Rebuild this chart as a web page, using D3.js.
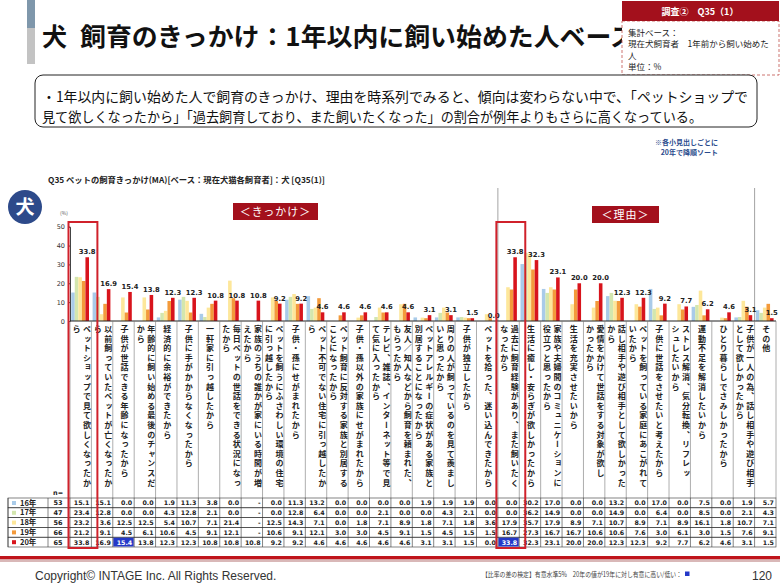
<!DOCTYPE html>
<html><head><meta charset="utf-8">
<script src="https://cdn.jsdelivr.net/npm/d3@7/dist/d3.min.js"></script>
<style>
body{margin:0;background:#fff;}
svg{display:block;font-family:"Noto Sans CJK JP","Noto Sans",sans-serif;}
</style></head><body>
<svg id="chart" width="780" height="588"></svg>
<script>
// categories (きっかけ 20 + 理由 13)
const categories = [
  "ペットショップで見て欲しくなったから",
  "以前飼っていたペットが亡くなったから",
  "子供が世話できる年齢になったから",
  "年齢的に飼い始める最後のチャンスだから",
  "経済的に余裕ができたから",
  "子供に手がかからなくなったから",
  "一軒家に引っ越したから",
  "毎日ペットの世話をできる状況になったから",
  "家族のうちの誰かが家にいる時間が増えたから",
  "ペットを飼うにふさわしい環境の住宅に引っ越したから",
  "子供・孫にせがまれたから",
  "ペット不可でない住宅に引っ越したから",
  "ペット飼育に反対する家族と別居することになったから",
  "子供・孫以外の家族にせがまれたから",
  "テレビ、雑誌、インターネット等で見て気に入ったから",
  "友人／知人などから飼育を頼まれた、もらったから",
  "ペットアレルギーの症状がある家族と別居することになったから",
  "周りの人が飼っているのを見て羨ましいと思ったから",
  "子供が独立したから",
  "ペットを拾った、迷い込んできたから",
  "過去に飼育経験があり、また飼いたくなったから",
  "生活に癒し・安らぎが欲しかったから",
  "家族や夫婦間のコミュニケーションに役立つと思ったから",
  "生活を充実させたいから",
  "愛情をかけて世話をする対象が欲しかったから",
  "話し相手や遊び相手として欲しかったから",
  "ペットを飼っている家庭にあこがれていたから",
  "子供に世話をさせたいと考えたから",
  "ストレス解消、気分転換、リフレッシュしたいから",
  "運動不足を解消したいから",
  "ひとり暮らしでさみしかったから",
  "子供が一人の為、話し相手や遊び相手として欲しかったから",
  "その他"
];
const years = ["16年", "17年", "18年", "19年", "20年"];
const nValues = [53, 47, 56, 66, 65];
const v16 = [15.1,15.1,0.0,0.0,1.9,11.3,3.8,0.0,null,0.0,11.3,13.2,0.0,0.0,0.0,0.0,1.9,1.9,1.9,0.0,
             0.0,30.2,17.0,0.0,0.0,13.2,0.0,17.0,0.0,7.5,0.0,1.9,5.7];
const v17 = [23.4,12.8,0.0,0.0,4.3,12.8,2.1,0.0,null,0.0,12.8,6.4,0.0,0.0,2.1,0.0,0.0,4.3,2.1,0.0,
             0.0,36.2,14.9,0.0,0.0,14.9,0.0,6.4,0.0,8.5,0.0,2.1,4.3];
const v18 = [23.2,3.6,12.5,12.5,5.4,10.7,7.1,21.4,null,12.5,14.3,7.1,0.0,1.8,7.1,8.9,1.8,7.1,1.8,3.6,
             17.9,35.7,17.9,8.9,7.1,10.7,8.9,7.1,8.9,16.1,1.8,10.7,7.1];
const v19 = [21.2,9.1,4.5,6.1,10.6,4.5,9.1,12.1,null,10.6,9.1,12.1,3.0,3.0,4.5,9.1,1.5,4.5,1.5,1.5,
             16.7,27.3,16.7,16.7,10.6,10.6,7.6,3.0,6.1,3.0,1.5,7.6,9.1];
const v20 = [33.8,16.9,15.4,13.8,12.3,12.3,10.8,10.8,10.8,9.2,9.2,4.6,4.6,4.6,4.6,4.6,3.1,3.1,1.5,0.0,
             33.8,32.3,23.1,20.0,20.0,12.3,12.3,9.2,7.7,6.2,4.6,3.1,1.5];
const series = [v16, v17, v18, v19, v20];
const colors = ["#a9cbe9", "#d3e6ae", "#fde79a", "#f39a3b", "#d8141c"];
const yTicks = [0, 10, 20, 30, 40, 50];
const sectionNames = ["＜きっかけ＞", "＜理由＞"];
const sectionStart = [0, 20, 32];      // first column index of each block
const boxedCols = [0, 20];             // red frames
const sigCells = [[2, 4], [20, 4]];    // [column, year row] significant

const svg = d3.select('#chart');

// header
svg.append('rect').attr('x', 27).attr('y', 0).attr('width', 8).attr('height', 28).attr('fill', '#7f97ab');
svg.append('rect').attr('x', 27).attr('y', 28).attr('width', 8).attr('height', 36).attr('fill', '#c3c3c3');
svg.append('text').attr('x', 42).attr('y', 46)
  .style('font-size', '25px').style('font-weight', 'bold').attr('fill', '#111').text('犬');
svg.append('text').attr('x', 80).attr('y', 46)
  .style('font-size', '25px').style('font-weight', 'bold').attr('fill', '#111')
  .attr('textLength', 556).attr('lengthAdjust', 'spacingAndGlyphs')
  .text('飼育のきっかけ：1年以内に飼い始めた人ベース');

// info box top right
svg.append('rect').attr('x', 622).attr('y', 21).attr('width', 157).attr('height', 54)
  .attr('fill', '#fff').attr('stroke', '#c0504d').attr('stroke-dasharray', '3,2').attr('stroke-width', 0.8);
svg.append('rect').attr('x', 622).attr('y', 1).attr('width', 157).attr('height', 20).attr('fill', '#a3101c');
svg.append('text').attr('x', 700).attr('y', 14.5).attr('text-anchor', 'middle')
  .style('font-size', '9px').style('font-weight', 'bold').attr('fill', '#fff').text('調査②　Q35（1）');
["集計ベース：", "現在犬飼育者　1年前から飼い始めた", "人", "単位：%"].forEach((t, i) => {
  svg.append('text').attr('x', 628).attr('y', 36 + i * 11.3)
    .style('font-size', '8.5px').attr('fill', '#222').text(t);
});

// summary box
svg.append('rect').attr('x', 35).attr('y', 75).attr('width', 722).attr('height', 52)
  .attr('rx', 8).attr('fill', '#fff').attr('stroke', '#222').attr('stroke-width', 1);
svg.append('text').attr('x', 42).attr('y', 102).style('font-size', '14px').attr('fill', '#111')
  .attr('textLength', 706).attr('lengthAdjust', 'spacingAndGlyphs')
  .text('・1年以内に飼い始めた人で飼育のきっかけ、理由を時系列でみると、傾向は変わらない中で、「ペットショップで');
svg.append('text').attr('x', 42).attr('y', 122).style('font-size', '14px').attr('fill', '#111')
  .attr('textLength', 660).attr('lengthAdjust', 'spacingAndGlyphs')
  .text('見て欲しくなったから」「過去飼育しており、また飼いたくなった」の割合が例年よりもさらに高くなっている。');

// sort note
svg.append('text').attr('x', 718).attr('y', 145).attr('text-anchor', 'end')
  .style('font-size', '7px').style('font-weight', 'bold').attr('fill', '#2a4b8d').text('※各小見出しごとに');
svg.append('text').attr('x', 718).attr('y', 155).attr('text-anchor', 'end')
  .style('font-size', '7px').style('font-weight', 'bold').attr('fill', '#2a4b8d').text('20年で降順ソート');

// question title
svg.append('text').attr('x', 48).attr('y', 183)
  .style('font-size', '8px').style('font-weight', 'bold').attr('fill', '#222')
  .attr('textLength', 277).attr('lengthAdjust', 'spacingAndGlyphs')
  .text('Q35 ペットの飼育きっかけ(MA)[ベース：現在犬猫各飼育者]：犬 [Q35(1)]');

// dog badge
svg.append('circle').attr('cx', 25).attr('cy', 207).attr('r', 17).attr('fill', '#2d4a8a');
svg.append('text').attr('x', 25).attr('y', 214).attr('text-anchor', 'middle')
  .style('font-size', '19px').style('font-weight', 'bold').attr('fill', '#fff').text('犬');

// scales
const x = d3.scaleBand().domain(d3.range(categories.length)).range([70, 776]);
const bw = x.bandwidth();
const xs = d3.scaleBand().domain(years).range([1.2, 19]);
const y = d3.scaleLinear().domain([0, 50]).range([321, 226.7]);

// section dividers + labels
sectionStart.slice(1).forEach(c => {
  svg.append('line').attr('x1', x(c)).attr('x2', x(c)).attr('y1', 188).attr('y2', 321)
    .attr('stroke', '#8c8c8c').attr('stroke-width', 0.8);
});
const secBox = [[233, 203, 85], [592, 206, 67]];
sectionNames.forEach((s, i) => {
  const b = secBox[i];
  svg.append('rect').attr('x', b[0]).attr('y', b[1]).attr('width', b[2]).attr('height', 17).attr('fill', '#a3101c');
  svg.append('text').attr('x', b[0] + b[2] / 2).attr('y', b[1] + 12.5).attr('text-anchor', 'middle')
    .style('font-size', '11px').attr('fill', '#fff').style('letter-spacing', '1px').text(s);
});

// y axis
const yAxis = svg.append('g').attr('transform', 'translate(70,0)')
  .call(d3.axisLeft(y).tickValues(yTicks).tickSize(2).tickPadding(3));
yAxis.select('.domain').attr('stroke', '#444');
yAxis.selectAll('.tick line').attr('stroke', '#444');
yAxis.selectAll('text').style('font-family', 'DejaVu Sans').style('font-size', '6.5px').attr('fill', '#333');
svg.append('text').attr('x', 60).attr('y', 215).style('font-size', '5px').attr('fill', '#555').text('(%)');

// bars
const g = svg.append('g');
categories.forEach((c, ci) => {
  years.forEach((yr, yi) => {
    const v = series[yi][ci];
    if (v == null) return;
    g.append('rect')
      .attr('x', x(ci) + xs(yr)).attr('width', xs.bandwidth())
      .attr('y', y(v)).attr('height', y(0) - y(v))
      .attr('fill', colors[yi]);
  });
});
// value labels for 20年
g.selectAll('.vlab').data(v20).enter().append('text')
  .attr('x', (d, i) => x(i) + xs('20年') + xs.bandwidth() / 2)
  .attr('y', d => y(d) - 3)
  .attr('text-anchor', 'middle')
  .style('font-family', 'DejaVu Sans').style('font-size', '6.8px').style('font-weight', 'bold')
  .attr('fill', '#222').text(d => d.toFixed(1));

// baseline
svg.append('line').attr('x1', 70).attr('x2', 776).attr('y1', 321).attr('y2', 321)
  .attr('stroke', '#222').attr('stroke-width', 1.2);

// category label grid
const labTop = 321, labBot = 498;
d3.range(categories.length + 1).forEach(i => {
  const xx = i < categories.length ? x(i) : 776;
  svg.append('line').attr('x1', xx).attr('x2', xx).attr('y1', labTop).attr('y2', labBot)
    .attr('stroke', '#777').attr('stroke-width', 0.6);
});

function wrapJa(s, n) {
  const noStart = "っゃゅょッャュョー、。・）」";
  const lines = []; let rest = [...s];
  while (rest.length > n) {
    let cut = n;
    while (cut > 1 && noStart.includes(rest[cut])) cut--;
    lines.push(rest.slice(0, cut).join(''));
    rest = rest.slice(cut);
  }
  lines.push(rest.join(''));
  return lines;
}
categories.forEach((c, ci) => {
  const lines = wrapJa(c, 17);
  const cx = x(ci) + bw / 2 + 1;
  lines.forEach((ln, k) => {
    svg.append('text')
      .attr('x', cx + ((lines.length - 1) / 2 - k) * 10.5)
      .attr('y', 325)
      .style('writing-mode', 'vertical-rl')
      .style('font-size', '8px').style('font-weight', 'bold').style('letter-spacing', '1.6px')
      .attr('fill', '#222').text(ln);
  });
});

// data table
const tTop = 498, rowH = 9.8;
svg.append('text').attr('x', 53).attr('y', 495).style('font-family', 'DejaVu Sans')
  .style('font-size', '6.5px').style('font-weight', 'bold').attr('fill', '#222').text('n=');
years.forEach((yr, r) => {
  const ty = tTop + r * rowH;
  svg.append('rect').attr('x', 8).attr('y', ty).attr('width', 768).attr('height', rowH)
    .attr('fill', 'none').attr('stroke', '#333').attr('stroke-width', 0.6);
  svg.append('rect').attr('x', 12).attr('y', ty + 3).attr('width', 4).attr('height', 4).attr('fill', colors[r]);
  svg.append('text').attr('x', 20).attr('y', ty + 7.5).style('font-size', '7.5px').style('font-weight', 'bold')
    .attr('fill', '#222').text(yr);
  svg.append('text').attr('x', 58).attr('y', ty + 7.3).attr('text-anchor', 'middle')
    .style('font-family', 'DejaVu Sans').style('font-size', '6.5px').style('font-weight', 'bold')
    .attr('fill', '#222').text(nValues[r]);
  categories.forEach((c, ci) => {
    const sig = sigCells.some(s => s[0] === ci && s[1] === r);
    if (sig) {
      svg.append('rect').attr('x', x(ci) + 0.5).attr('y', ty + 0.5).attr('width', bw - 1).attr('height', rowH - 1)
        .attr('fill', '#2438c8');
    }
    const v = series[r][ci];
    svg.append('text').attr('x', x(ci) + bw - 2).attr('y', ty + 7.3).attr('text-anchor', 'end')
      .style('font-family', 'DejaVu Sans').style('font-size', '6.3px').style('font-weight', 'bold')
      .attr('fill', sig ? '#fff' : '#222').text(v == null ? '-' : v.toFixed(1));
  });
});
[8, 48].forEach(xx => svg.append('line').attr('x1', xx).attr('x2', xx).attr('y1', tTop).attr('y2', tTop + 5 * rowH)
  .attr('stroke', '#333').attr('stroke-width', 0.6));
d3.range(categories.length).forEach(i => {
  svg.append('line').attr('x1', x(i)).attr('x2', x(i)).attr('y1', tTop).attr('y2', tTop + 5 * rowH)
    .attr('stroke', '#333').attr('stroke-width', 0.6);
});

// red frames
boxedCols.forEach(c => {
  svg.append('rect').attr('x', x(c) - 1.5).attr('y', 222).attr('width', bw + 7.5).attr('height', 326)
    .attr('fill', 'none').attr('stroke', '#d0212b').attr('stroke-width', 2);
});

// footer
svg.append('rect').attr('x', 0).attr('y', 556).attr('width', 780).attr('height', 3.5).attr('fill', '#c0141c');
svg.append('rect').attr('x', 0).attr('y', 559.5).attr('width', 780).attr('height', 2.5).attr('fill', '#d9b8b8');
svg.append('text').attr('x', 35).attr('y', 580).style('font-family', 'Liberation Sans, Arial')
  .style('font-size', '12px').attr('fill', '#333').text('Copyright© INTAGE Inc. All Rights Reserved.');
svg.append('text').attr('x', 482).attr('y', 577).style('font-size', '7px').attr('fill', '#444')
  .attr('textLength', 200).attr('lengthAdjust', 'spacingAndGlyphs')
  .text('【比率の差の検定】有意水準5%　20年の値が19年に対し有意に高い/低い：');
svg.append('rect').attr('x', 685).attr('y', 571.5).attr('width', 4.5).attr('height', 4.5).attr('fill', '#2438c8');
svg.append('text').attr('x', 772).attr('y', 580).attr('text-anchor', 'end').style('font-family', 'Liberation Sans, Arial')
  .style('font-size', '12px').attr('fill', '#333').text('120');
</script></body></html>
